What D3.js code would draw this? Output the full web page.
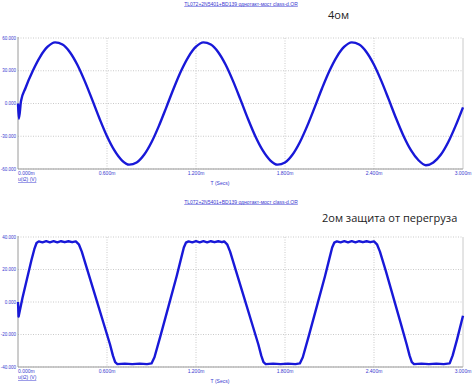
<!DOCTYPE html>
<html>
<head>
<meta charset="utf-8">
<script src="https://cdn.jsdelivr.net/npm/d3@7"></script>
<style>
  body { margin: 0; background: #fff; }
  svg { display: block; font-family: "Liberation Sans", Arial, sans-serif; }
  .tick-label { font-size: 5px; fill: #3a3ad0; }
  .ylab { font-size: 4.5px; }
  .note { font-family: "Open Sans", "Noto Sans", sans-serif; font-size: 11px; fill: #222; }
</style>
</head>
<body>
<div id="chart"></div>
<script>
// time axis, ms
var timeTicks = [0, 0.6, 1.2, 1.8, 2.4, 3.0];
var timeLabels = ["0.000m", "0.600m", "1.200m", "1.800m", "2.400m", "3.000m"];

// 4 ohm : full sine
var topTicks = [60, 30, 0, -30, -60];
var topLabels = ["60.000", "30.000", "0.000", "-30.000", "-60.000"];
var topTimes = [0, 0.006, 0.02, 0.05, 0.10, 0.15, 0.20, 0.25, 0.30, 0.35, 0.40, 0.45, 0.50,
  0.55, 0.60, 0.65, 0.70, 0.75, 0.80, 0.85, 0.90, 0.95, 1.00,
  1.05, 1.10, 1.15, 1.20, 1.25, 1.30, 1.35, 1.40, 1.45, 1.50,
  1.55, 1.60, 1.65, 1.70, 1.75, 1.80, 1.85, 1.90, 1.95, 2.00,
  2.05, 2.10, 2.15, 2.20, 2.25, 2.30, 2.35, 2.40, 2.45, 2.50,
  2.55, 2.60, 2.65, 2.70, 2.75, 2.80, 2.85, 2.90, 2.95, 3.00];
var topVolts = [0, -14, 2, 14, 30, 43, 52, 56, 54, 47, 35.5, 20.5, 3.5,
  -14, -30, -43, -52, -56, -54, -47, -35.5, -20.5, -3.5,
  14, 30, 43, 52, 56, 54, 47, 35.5, 20.5, 3.5,
  -14, -30, -43, -52, -56, -54, -47, -35.5, -20.5, -3.5,
  14, 30, 43, 52, 56, 54, 47, 35.5, 20.5, 3.5,
  -14, -30, -43, -52, -56.5, -54, -47, -35.5, -20.5, -3.5];

// 2 ohm : clipped by protection
var botTicks = [40, 20, 0, -20, -40];
var botLabels = ["40.000", "20.000", "0.000", "-20.000", "-40.000"];
var botTimes = [0, 0.004, 0.03, 0.06, 0.09, 0.11, 0.125, 0.14, 0.165, 0.19, 0.215, 0.24, 0.265, 0.29, 0.315, 0.34, 0.365, 0.39,
  0.41, 0.43, 0.47, 0.525, 0.58, 0.62, 0.64, 0.655, 0.67, 0.72, 0.77, 0.82, 0.87, 0.90,
  0.92, 0.96, 1.015, 1.07, 1.10, 1.118, 1.132, 1.15, 1.175, 1.20, 1.225, 1.25, 1.275, 1.30, 1.325, 1.35, 1.375, 1.39,
  1.41, 1.43, 1.47, 1.525, 1.58, 1.62, 1.64, 1.655, 1.67, 1.72, 1.77, 1.82, 1.87, 1.90,
  1.92, 1.96, 2.015, 2.07, 2.10, 2.118, 2.132, 2.15, 2.175, 2.20, 2.225, 2.25, 2.275, 2.30, 2.325, 2.35, 2.375, 2.40,
  2.42, 2.44, 2.48, 2.53, 2.58, 2.62, 2.64, 2.655, 2.67, 2.72, 2.77, 2.82, 2.87, 2.91,
  2.93, 2.96, 3.00];
var botVolts = [0, -9, 2.5, 14, 25.5, 32.5, 36.3, 37.3, 36.7, 37.4, 36.7, 37.4, 36.7, 37.4, 36.8, 37.4, 36.8, 37.3,
  35.5, 31, 19, 2.5, -14, -26, -33, -37, -38.2, -37.9, -38.2, -37.9, -38.2, -37.8,
  -34, -21, -2.5, 16, 27, 33.5, 36.5, 37.3, 36.7, 37.4, 36.7, 37.4, 36.7, 37.4, 36.8, 37.4, 36.8, 37.3,
  35.5, 31, 19, 2.5, -14, -26, -33, -37, -38.2, -37.9, -38.2, -37.9, -38.2, -37.8,
  -34, -21, -2.5, 16, 27, 33.5, 36.5, 37.3, 36.7, 37.4, 36.7, 37.4, 36.7, 37.4, 36.8, 37.4, 36.8, 37.3,
  35.5, 31, 19, 3, -13, -26, -33, -37, -38.2, -37.9, -38.2, -37.9, -38.2, -37.8,
  -33, -23, -8.5];

var W = 474, H = 387;
var svg = d3.select("#chart").append("svg").attr("width", W).attr("height", H);

var x = d3.scaleLinear().domain([0, 3]).range([18, 463]);

function drawPlot(cfg) {
  var y = d3.scaleLinear().domain([cfg.ticks[cfg.ticks.length - 1], cfg.ticks[0]]).range([cfg.bottom, cfg.top]);
  var g = svg.append("g");

  // title of the simulation
  g.append("text")
    .attr("class", "tick-label")
    .attr("x", 241).attr("y", cfg.titleY)
    .attr("text-anchor", "middle")
    .style("text-decoration", "underline")
    .text("TL072+2N5401+BD139 однотакт-мост class-d.OR");

  // dotted grid
  g.selectAll(".hgrid").data(cfg.ticks).enter().append("line")
    .attr("x1", x(0)).attr("x2", x(3))
    .attr("y1", d => y(d)).attr("y2", d => y(d))
    .attr("stroke", "#bdbdbd").attr("stroke-width", 0.8)
    .attr("stroke-dasharray", "1,1.5");
  g.selectAll(".vgrid").data(timeTicks.slice(1)).enter().append("line")
    .attr("x1", d => x(d)).attr("x2", d => x(d))
    .attr("y1", cfg.top).attr("y2", cfg.bottom)
    .attr("stroke", "#bdbdbd").attr("stroke-width", 0.8)
    .attr("stroke-dasharray", d => d === 3 ? null : "1,1.5");

  // axis frame
  g.append("line").attr("x1", x(0)).attr("x2", x(0)).attr("y1", cfg.top - 1).attr("y2", cfg.bottom)
    .attr("stroke", "#9a9a9a").attr("stroke-width", 1);
  g.append("line").attr("x1", x(0)).attr("x2", x(3)).attr("y1", cfg.bottom).attr("y2", cfg.bottom)
    .attr("stroke", "#9a9a9a").attr("stroke-width", 1);

  // tick labels
  g.selectAll(".ylab").data(cfg.ticks).enter().append("text")
    .attr("class", "tick-label ylab")
    .attr("x", 16).attr("y", d => y(d) + 1.6)
    .attr("text-anchor", "end")
    .text((d, i) => cfg.labels[i]);
  g.selectAll(".xlab").data(timeTicks).enter().append("text")
    .attr("class", "tick-label")
    .attr("x", d => x(d))
    .attr("y", cfg.bottom + 6)
    .attr("text-anchor", (d, i) => i === 0 ? "start" : "middle")
    .text((d, i) => timeLabels[i]);

  g.append("text").attr("class", "tick-label")
    .attr("x", x(0)).attr("y", cfg.bottom + 12)
    .style("text-decoration", "underline")
    .text("u(t2) (V)");
  g.append("text").attr("class", "tick-label")
    .attr("x", 220).attr("y", cfg.bottom + 16)
    .attr("text-anchor", "middle")
    .text("T (Secs)");

  // trace
  var line = d3.line()
    .x((d, i) => x(cfg.times[i]))
    .y(d => y(d))
    .curve(cfg.curve);
  g.append("path")
    .datum(cfg.volts)
    .attr("d", line)
    .attr("fill", "none")
    .attr("stroke", "#1818d8")
    .attr("stroke-width", 2.4)
    .attr("stroke-linejoin", "round");

  g.append("text").attr("class", "note")
    .attr("x", cfg.noteX).attr("y", cfg.noteY)
    .text(cfg.note);
}

drawPlot({ ticks: topTicks, labels: topLabels, times: topTimes, volts: topVolts,
  top: 38, bottom: 169, titleY: 5.5, curve: d3.curveMonotoneX,
  note: "4ом", noteX: 328, noteY: 19 });
drawPlot({ ticks: botTicks, labels: botLabels, times: botTimes, volts: botVolts,
  top: 237, bottom: 367, titleY: 203.5, curve: d3.curveLinear,
  note: "2ом защита от перегруза", noteX: 322, noteY: 221.5 });
</script>
</body>
</html>
